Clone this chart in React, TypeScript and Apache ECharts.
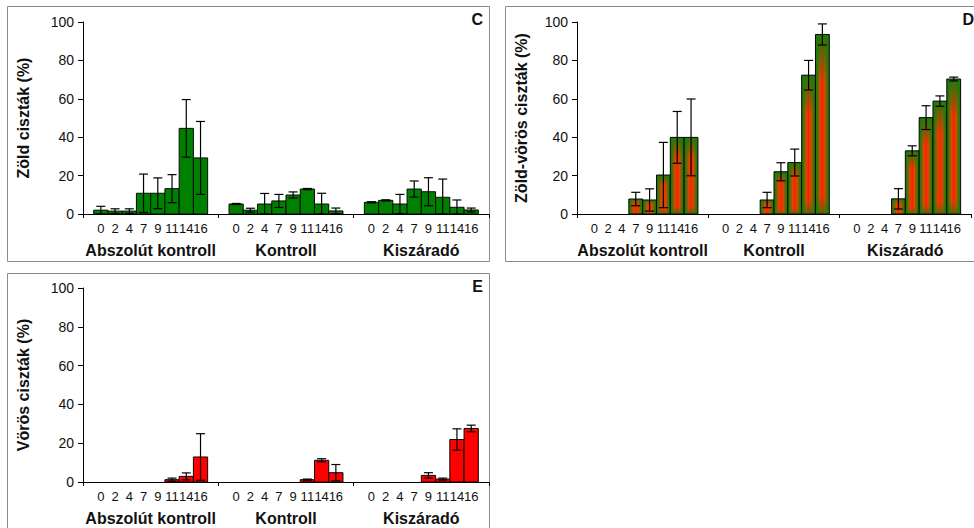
import React, { useEffect, useRef } from 'react';
import * as echarts from 'echarts';

// ---- data ----
const days = ['0', '2', '4', '7', '9', '11', '14', '16'];
const groups = ['Abszolút kontroll', 'Kontroll', 'Kiszáradó'];

// C: Zöld ciszták (%)
const cAbsMean = [2, 1.5, 1.5, 10.8, 10.8, 13.2, 44.6, 29.2];
const cAbsErr = [2, 1.2, 1.2, 10, 8, 7.3, 15, 19];
const cKonMean = [5.2, 2, 5.2, 6.8, 9.9, 13, 5.2, 1.6];
const cKonErr = [0.3, 1, 5.5, 3.4, 1.6, 0.3, 5.6, 1.5];
const cKisMean = [6.1, 7.1, 5.2, 13, 11.6, 8.7, 3.5, 2.1];
const cKisErr = [0.3, 0.3, 5, 4.2, 7.3, 9.5, 3.8, 1];

// D: Zöld-vörös ciszták (%)
const dAbsMean = [0, 0, 0, 7.8, 7.3, 20.3, 39.9, 39.9];
const dAbsErr = [0, 0, 0, 3.5, 5.8, 17, 13.5, 20];
const dKonMean = [0, 0, 0, 7.3, 22, 26.8, 72.3, 93.5];
const dKonErr = [0, 0, 0, 4, 4.7, 7, 7.7, 5.5];
const dKisMean = [0, 0, 0, 7.9, 32.9, 50.2, 58.8, 70.3];
const dKisErr = [0, 0, 0, 5.3, 2.6, 6.2, 2.7, 1];

// E: Vörös ciszták (%)
const eAbsMean = [0, 0, 0, 0, 0, 1.2, 2.9, 12.9];
const eAbsErr = [0, 0, 0, 0, 0, 0.8, 1.8, 12];
const eKonMean = [0, 0, 0, 0, 0, 1.2, 11.2, 4.8];
const eKonErr = [0, 0, 0, 0, 0, 0.3, 0.8, 4.2];
const eKisMean = [0, 0, 0, 0, 3.4, 1.5, 21.9, 27.6];
const eKisErr = [0, 0, 0, 0, 1.4, 0.5, 5.5, 1.7];

const yMin = 0;
const yMax = 100;
const yStep = 20;

// ---- layout helpers ----
const FONT = '"Liberation Sans", Arial, Helvetica, sans-serif';
const GROUP_SPAN = 9.5; // axis units per group (8 bars + padding)
const GROUP_PAD = 0.75;
const X_MAX = GROUP_SPAN * groups.length;

const greenFill = '#008000';
const redFill = '#ff0000';
const gradGreen = '#1e7a0a';
const gradRed = '#ff2000';

const panels = [
  {
    letter: 'C',
    name: 'Zöld ciszták (%)',
    grid: { left: 83, top: 22, width: 406, height: 192 },
    nameGap: 52,
    box: { x: 7.5, y: 6.5, width: 482, height: 255 },
    letterPos: { x: 483, y: 19 },
    fill: greenFill,
    gradient: false,
    sets: [
      [cAbsMean, cAbsErr],
      [cKonMean, cKonErr],
      [cKisMean, cKisErr],
    ],
  },
  {
    letter: 'D',
    name: 'Zöld-vörös ciszták (%)',
    grid: { left: 577, top: 22, width: 408, height: 192 },
    nameGap: 48,
    box: { x: 505.5, y: 6.5, width: 500, height: 255 },
    letterPos: { x: 974, y: 19 },
    fill: gradGreen,
    gradient: true,
    sets: [
      [dAbsMean, dAbsErr],
      [dKonMean, dKonErr],
      [dKisMean, dKisErr],
    ],
  },
  {
    letter: 'E',
    name: 'Vörös ciszták (%)',
    grid: { left: 83, top: 288, width: 406, height: 194 },
    nameGap: 52,
    box: { x: 7.5, y: 273.5, width: 482, height: 300 },
    letterPos: { x: 483, y: 286 },
    fill: redFill,
    gradient: false,
    sets: [
      [eAbsMean, eAbsErr],
      [eKonMean, eKonErr],
      [eKisMean, eKisErr],
    ],
  },
];

const dayFormatter = (v: number) => {
  const q = Math.round(v * 4);
  const g = Math.floor(q / (GROUP_SPAN * 4));
  if (g < 0 || g >= groups.length) return '';
  const r = q - g * GROUP_SPAN * 4 - (GROUP_PAD + 0.5) * 4;
  if (r >= 0 && r % 4 === 0 && r / 4 < days.length) return days[r / 4];
  return '';
};

const groupFormatter = (v: number) => {
  const q = Math.round(v * 4);
  const g = Math.floor(q / (GROUP_SPAN * 4));
  if (g < 0 || g >= groups.length) return '';
  if (q - g * GROUP_SPAN * 4 === (GROUP_SPAN / 2) * 4) return groups[g];
  return '';
};

const hGrad = {
  type: 'linear',
  x: 0,
  y: 0,
  x2: 1,
  y2: 0,
  colorStops: [
    { offset: 0, color: gradGreen },
    { offset: 0.08, color: gradGreen },
    { offset: 0.34, color: '#d84a00' },
    { offset: 0.5, color: gradRed },
    { offset: 0.66, color: '#d84a00' },
    { offset: 0.92, color: gradGreen },
    { offset: 1, color: gradGreen },
  ],
};
const vFade = {
  type: 'linear',
  x: 0,
  y: 0,
  x2: 0,
  y2: 1,
  colorStops: [
    { offset: 0, color: 'rgba(30,122,10,1)' },
    { offset: 0.28, color: 'rgba(30,122,10,0)' },
    { offset: 0.9, color: 'rgba(30,122,10,0)' },
    { offset: 1, color: 'rgba(30,122,10,0.7)' },
  ],
};

function buildOption() {
  const grid: any[] = [];
  const xAxis: any[] = [];
  const yAxis: any[] = [];
  const series: any[] = [];
  const graphic: any[] = [];

  panels.forEach((p, pi) => {
    grid.push({ ...p.grid, containLabel: false });

    // main axis line with group separator ticks
    xAxis.push({
      type: 'value',
      gridIndex: pi,
      min: 0,
      max: X_MAX,
      interval: GROUP_SPAN,
      position: 'bottom',
      axisLine: { show: true, onZero: false, lineStyle: { color: '#000', width: 1 } },
      axisTick: { show: true, inside: false, length: 4, lineStyle: { color: '#000' } },
      axisLabel: { show: false },
      splitLine: { show: false },
    });
    // day labels
    xAxis.push({
      type: 'value',
      gridIndex: pi,
      min: 0,
      max: X_MAX,
      interval: 0.25,
      position: 'bottom',
      axisLine: { show: false },
      axisTick: { show: false },
      splitLine: { show: false },
      axisLabel: {
        show: true,
        margin: 8,
        fontSize: 13,
        color: '#111',
        fontFamily: FONT,
        showMinLabel: true,
        showMaxLabel: true,
        formatter: dayFormatter,
      },
    });
    // group labels
    xAxis.push({
      type: 'value',
      gridIndex: pi,
      min: 0,
      max: X_MAX,
      interval: 0.25,
      position: 'bottom',
      axisLine: { show: false },
      axisTick: { show: false },
      splitLine: { show: false },
      axisLabel: {
        show: true,
        margin: 28,
        fontSize: 16,
        fontWeight: 'bold',
        color: '#111',
        fontFamily: FONT,
        formatter: groupFormatter,
      },
    });

    yAxis.push({
      type: 'value',
      gridIndex: pi,
      min: yMin,
      max: yMax,
      interval: yStep,
      name: p.name,
      nameLocation: 'middle',
      nameGap: p.nameGap,
      nameTextStyle: { fontSize: 16, fontWeight: 'bold', color: '#111', fontFamily: FONT },
      axisLine: { show: true, lineStyle: { color: '#000', width: 1 } },
      axisTick: { show: true, inside: false, length: 5, lineStyle: { color: '#000' } },
      axisLabel: { fontSize: 14, color: '#111', fontFamily: FONT, margin: 9 },
      splitLine: { show: false },
    });

    const data: number[][] = [];
    p.sets.forEach(([mean, err], g) => {
      mean.forEach((m, i) => {
        data.push([g * GROUP_SPAN + GROUP_PAD + 0.5 + i, m, err[i]]);
      });
    });

    const fill = p.fill;
    const useGrad = p.gradient;
    series.push({
      type: 'custom',
      xAxisIndex: pi * 3,
      yAxisIndex: pi,
      encode: { x: 0, y: 1 },
      clip: false,
      data,
      renderItem: (params: any, api: any) => {
        const x = api.value(0);
        const v = api.value(1);
        const e = api.value(2);
        if (!v) return null;
        const tl = api.coord([x - 0.5, v]);
        const br = api.coord([x + 0.5, 0]);
        const shape = { x: tl[0], y: tl[1], width: br[0] - tl[0], height: br[1] - tl[1] };
        const children: any[] = [];
        if (useGrad) {
          children.push(
            { type: 'rect', shape, style: { fill: hGrad } },
            { type: 'rect', shape, style: { fill: vFade } },
            { type: 'rect', shape, style: { fill: 'none', stroke: '#0a0a0a', lineWidth: 1 } }
          );
        } else {
          children.push({ type: 'rect', shape, style: { fill, stroke: '#0a0a0a', lineWidth: 1 } });
        }
        if (e > 0) {
          const top = api.coord([x, v + e]);
          const bot = api.coord([x, Math.max(0, v - e)]);
          const cap = 4.5;
          const ls = { stroke: '#000', lineWidth: 1.2 };
          children.push(
            { type: 'line', shape: { x1: top[0], y1: top[1], x2: bot[0], y2: bot[1] }, style: ls },
            { type: 'line', shape: { x1: top[0] - cap, y1: top[1], x2: top[0] + cap, y2: top[1] }, style: ls },
            { type: 'line', shape: { x1: bot[0] - cap, y1: bot[1], x2: bot[0] + cap, y2: bot[1] }, style: ls }
          );
        }
        return { type: 'group', children };
      },
    });

    graphic.push({
      type: 'rect',
      shape: { ...p.box },
      style: { fill: 'none', stroke: '#8c8c8c', lineWidth: 1 },
      silent: true,
      z: 0,
    });
    graphic.push({
      type: 'text',
      x: p.letterPos.x,
      y: p.letterPos.y,
      style: {
        text: p.letter,
        fontSize: 16,
        fontWeight: 'bold',
        fontFamily: FONT,
        fill: '#111',
        align: 'right',
        verticalAlign: 'middle',
      },
      silent: true,
    });
  });

  return { animation: false, backgroundColor: '#fff', grid, xAxis, yAxis, series, graphic };
}

export default function App() {
  const ref = useRef<HTMLDivElement>(null);
  useEffect(() => {
    if (!ref.current) return;
    const chart = echarts.init(ref.current, null, { renderer: 'svg' });
    chart.setOption(buildOption() as any);
    return () => chart.dispose();
  }, []);
  return (
    <div
      ref={ref}
      style={{ position: 'absolute', left: 0, top: 0, width: 974, height: 528, background: '#fff' }}
    />
  );
}
